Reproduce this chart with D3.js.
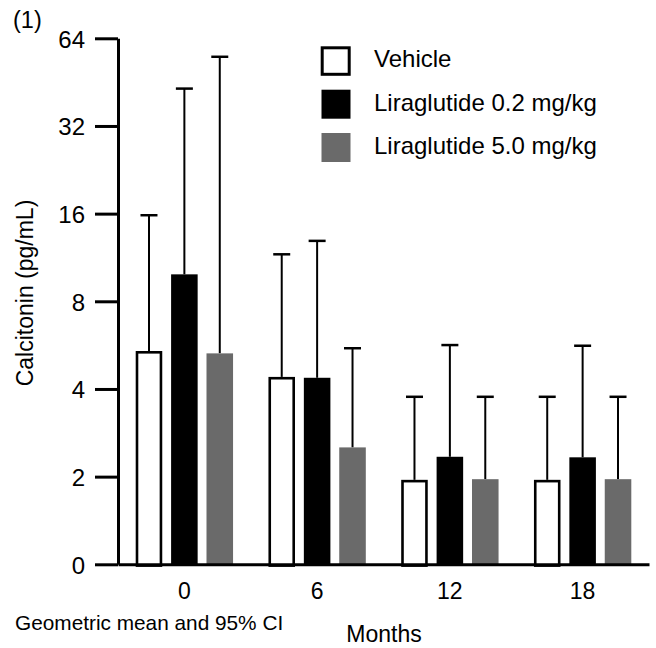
<!DOCTYPE html>
<html>
<head>
<meta charset="utf-8">
<script src="https://cdn.jsdelivr.net/npm/d3@7"></script>
<style>
  html, body { margin: 0; padding: 0; background: #fff; }
  svg { display: block; font-family: "Liberation Sans", Arial, Helvetica, sans-serif; }
</style>
</head>
<body>
<svg id="chart" width="656" height="648"></svg>
<script>
// ---- data ----
const months = ["0", "6", "12", "18"];
const seriesNames = ["Vehicle", "Liraglutide 0.2 mg/kg", "Liraglutide 5.0 mg/kg"];
const vehicleMean = [5.4, 4.4, 1.95, 1.95];
const vehicleUpper = [15.8, 11.6, 3.76, 3.76];
const lira02Mean = [9.9, 4.37, 2.34, 2.33];
const lira02Upper = [43, 12.9, 5.66, 5.63];
const lira50Mean = [5.3, 2.52, 1.96, 1.96];
const lira50Upper = [55.3, 5.52, 3.76, 3.76];
const yTickValues = [1, 2, 4, 8, 16, 32, 64];
const yTickLabels = ["0", "2", "4", "8", "16", "32", "64"];

// ---- styles ----
const fills = ["#ffffff", "#000000", "#6a6a6a"];
const strokes = ["#000000", "none", "none"];

const svg = d3.select("#chart");
const plotLeft = 118, plotRight = 649, plotTop = 38.3, plotBottom = 564.3;

const y = d3.scaleLog().base(2).domain([1, 64]).range([plotBottom, plotTop]);
const x0 = d3.scaleBand().domain(months).range([plotLeft, plotRight]).padding(0);
const x1 = d3.scaleBand().domain(seriesNames).range([0, x0.bandwidth()])
  .paddingInner(0.25).paddingOuter(0.5);

const series = [
  { name: seriesNames[0], mean: vehicleMean, upper: vehicleUpper },
  { name: seriesNames[1], mean: lira02Mean, upper: lira02Upper },
  { name: seriesNames[2], mean: lira50Mean, upper: lira50Upper }
];

// bars + error bars
series.forEach((s, si) => {
  const g = svg.append("g");
  months.forEach((m, i) => {
    const bx = x0(m) + x1(s.name);
    const bw = x1.bandwidth();
    const yTop = y(s.mean[i]);
    const cx = bx + bw / 2;
    g.append("line")
      .attr("x1", cx).attr("x2", cx)
      .attr("y1", yTop).attr("y2", y(s.upper[i]))
      .attr("stroke", "#000").attr("stroke-width", 2);
    g.append("line")
      .attr("x1", cx - 8.5).attr("x2", cx + 8.5)
      .attr("y1", y(s.upper[i])).attr("y2", y(s.upper[i]))
      .attr("stroke", "#000").attr("stroke-width", 2.5);
    if (strokes[si] !== "none") {
      const sw = 2.6;
      g.append("rect")
        .attr("x", bx + sw / 2).attr("width", bw - sw)
        .attr("y", yTop + sw / 2).attr("height", y(1) - yTop)
        .attr("fill", fills[si]).attr("stroke", strokes[si]).attr("stroke-width", sw);
    } else {
      g.append("rect")
        .attr("x", bx).attr("width", bw)
        .attr("y", yTop).attr("height", y(1) - yTop)
        .attr("fill", fills[si]);
    }
  });
});

// y axis
const yAxis = svg.append("g")
  .attr("transform", `translate(${plotLeft},0)`)
  .call(d3.axisLeft(y).tickValues(yTickValues)
    .tickFormat((d, i) => yTickLabels[i])
    .tickSize(23).tickSizeOuter(0).tickPadding(10));
yAxis.select(".domain").attr("stroke", "#000").attr("stroke-width", 3);
yAxis.selectAll(".tick line").attr("stroke", "#000").attr("stroke-width", 3);
yAxis.selectAll(".tick text").attr("font-size", 24).attr("fill", "#000")
  .attr("font-family", "Liberation Sans, Arial, sans-serif").attr("dy", "0.37em");

// x axis
const xAxis = svg.append("g")
  .attr("transform", `translate(0,${plotBottom})`)
  .call(d3.axisBottom(x0).tickSize(0).tickSizeOuter(0).tickPadding(18));
xAxis.select(".domain").attr("stroke", "#000").attr("stroke-width", 3);
xAxis.selectAll(".tick text").attr("font-size", 23).attr("fill", "#000")
  .attr("font-family", "Liberation Sans, Arial, sans-serif");

// axis titles and notes
svg.append("text")
  .attr("transform", "translate(33,293) rotate(-90)")
  .attr("text-anchor", "middle").attr("font-size", 23)
  .text("Calcitonin (pg/mL)");
svg.append("text")
  .attr("x", 384).attr("y", 642).attr("text-anchor", "middle").attr("font-size", 23)
  .text("Months");
svg.append("text")
  .attr("x", 15).attr("y", 630).attr("font-size", 20.8)
  .text("Geometric mean and 95% CI");
svg.append("text")
  .attr("x", 13).attr("y", 28).attr("font-size", 23.5)
  .text("(1)");

// legend
const legend = svg.append("g");
const legendBaselines = [67.3, 110.7, 154];
seriesNames.forEach((n, i) => {
  const sy = legendBaselines[i] - 21;
  if (strokes[i] !== "none") {
    legend.append("rect")
      .attr("x", 322.2).attr("y", sy + 1.5).attr("width", 27).attr("height", 26.5)
      .attr("fill", fills[i]).attr("stroke", strokes[i]).attr("stroke-width", 3);
  } else {
    legend.append("rect")
      .attr("x", 321.5).attr("y", sy).attr("width", 29).attr("height", 29)
      .attr("fill", fills[i]);
  }
  legend.append("text")
    .attr("x", 374).attr("y", legendBaselines[i]).attr("font-size", 24)
    .text(n);
});
</script>
</body>
</html>
